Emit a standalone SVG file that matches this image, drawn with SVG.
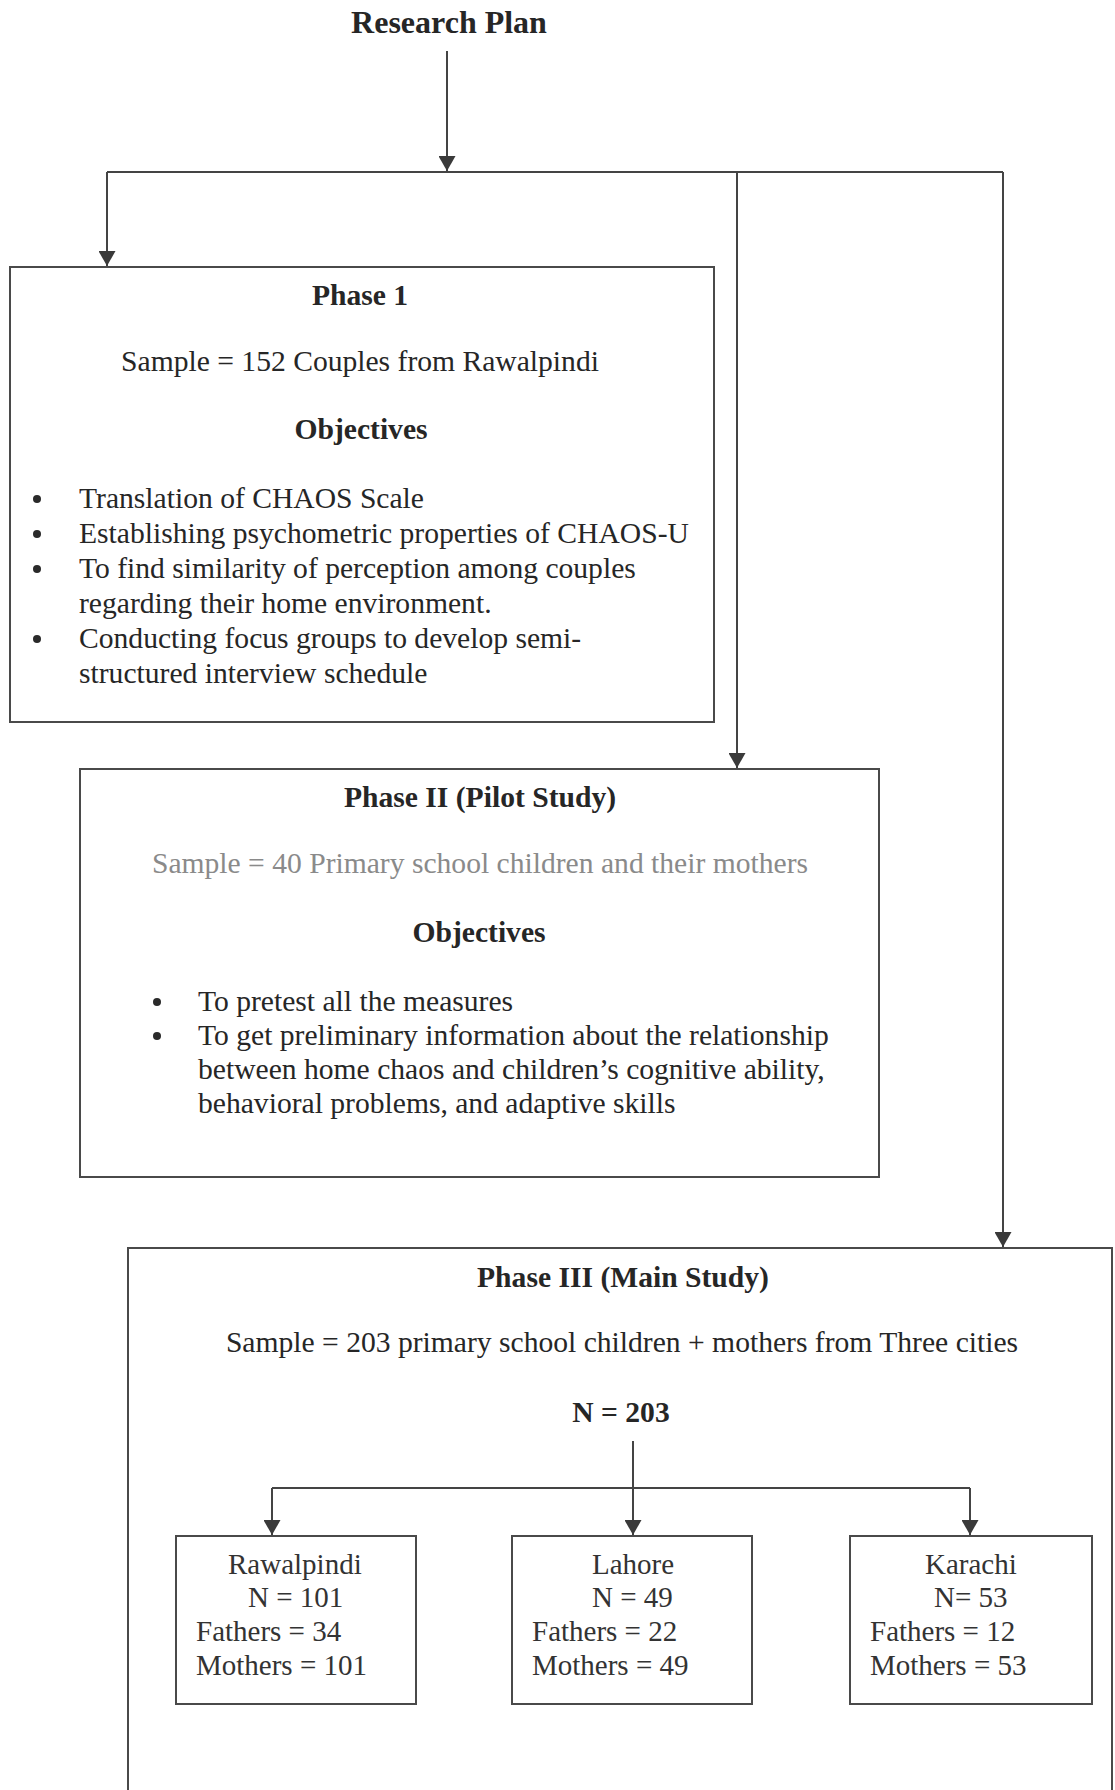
<svg xmlns="http://www.w3.org/2000/svg" width="1115" height="1790" viewBox="0 0 1115 1790">
<defs>
<marker id="arr" markerUnits="userSpaceOnUse" markerWidth="16" markerHeight="17" viewBox="0 0 16 17" refX="15" refY="8.5" orient="auto">
<path d="M0,0 L15,8.5 L0,17 Z" fill="#3a3a3a"/>
</marker>
</defs>
<style>
text{font-family:"Liberation Serif","Times New Roman",serif;font-size:29.6px;fill:#262626}
.b{font-weight:bold}
.c{text-anchor:middle}
.t{font-size:32px}
.g{fill:#8a8a8a}
.s{font-size:29px;fill:#333}
.box{fill:none;stroke:#4a4a4a;stroke-width:2}
.ln{fill:none;stroke:#444;stroke-width:2}
.dot{fill:#2a2a2a}
</style>
<rect width="1115" height="1790" fill="#fff"/>

<g id="title">
<text class="b c t" x="449" y="33">Research Plan</text>
</g>

<g id="connectors">
<path class="ln" d="M447 51 V171" marker-end="url(#arr)"/>
<path class="ln" d="M107 172 H1003"/>
<path class="ln" d="M107 172 V266" marker-end="url(#arr)"/>
<path class="ln" d="M737 172 V768" marker-end="url(#arr)"/>
<path class="ln" d="M1003 172 V1247" marker-end="url(#arr)"/>
<path class="ln" d="M633 1441 V1535" marker-end="url(#arr)"/>
<path class="ln" d="M272 1488 H970"/>
<path class="ln" d="M272 1488 V1535" marker-end="url(#arr)"/>
<path class="ln" d="M970 1488 V1535" marker-end="url(#arr)"/>
</g>

<g id="phase1">
<rect class="box" x="10" y="267" width="704" height="455"/>
<text class="b c" x="360" y="305">Phase 1</text>
<text class="c" x="360" y="371">Sample = 152 Couples from Rawalpindi</text>
<text class="b c" x="361" y="439">Objectives</text>
<circle class="dot" cx="37" cy="499" r="4"/>
<circle class="dot" cx="37" cy="534" r="4"/>
<circle class="dot" cx="37" cy="569" r="4"/>
<circle class="dot" cx="37" cy="639" r="4"/>
<text x="79" y="508">Translation of CHAOS Scale</text>
<text x="79" y="543">Establishing psychometric properties of CHAOS-U</text>
<text x="79" y="578">To find similarity of perception among couples</text>
<text x="79" y="613">regarding their home environment.</text>
<text x="79" y="648">Conducting focus groups to develop semi-</text>
<text x="79" y="683">structured interview schedule</text>
</g>

<g id="phase2">
<rect class="box" x="80" y="769" width="799" height="408"/>
<text class="b c" x="480" y="807">Phase II (Pilot Study)</text>
<text class="c g" x="480" y="873">Sample = 40 Primary school children and their mothers</text>
<text class="b c" x="479" y="942">Objectives</text>
<circle class="dot" cx="157" cy="1002" r="4"/>
<circle class="dot" cx="157" cy="1036" r="4"/>
<text x="198" y="1011">To pretest all the measures</text>
<text x="198" y="1045">To get preliminary information about the relationship</text>
<text x="198" y="1079">between home chaos and children’s cognitive ability,</text>
<text x="198" y="1113">behavioral problems, and adaptive skills</text>
</g>

<g id="phase3">
<rect class="box" x="128" y="1248" width="984" height="620"/>
<text class="b c" x="623" y="1287">Phase III (Main Study)</text>
<text class="c" x="622" y="1352">Sample = 203 primary school children + mothers from Three cities</text>
<text class="b c" x="621" y="1422">N = 203</text>
</g>

<g id="rawalpindi">
<rect class="box" x="176" y="1536" width="240" height="168"/>
<text class="s" x="228" y="1574">Rawalpindi</text>
<text class="s" x="248" y="1607">N = 101</text>
<text class="s" x="196" y="1641">Fathers = 34</text>
<text class="s" x="196" y="1675">Mothers = 101</text>
</g>

<g id="lahore">
<rect class="box" x="512" y="1536" width="240" height="168"/>
<text class="s" x="592" y="1574">Lahore</text>
<text class="s" x="592" y="1607">N = 49</text>
<text class="s" x="532" y="1641">Fathers = 22</text>
<text class="s" x="532" y="1675">Mothers = 49</text>
</g>

<g id="karachi">
<rect class="box" x="850" y="1536" width="242" height="168"/>
<text class="s" x="925" y="1574">Karachi</text>
<text class="s" x="934" y="1607">N= 53</text>
<text class="s" x="870" y="1641">Fathers = 12</text>
<text class="s" x="870" y="1675">Mothers = 53</text>
</g>
</svg>
